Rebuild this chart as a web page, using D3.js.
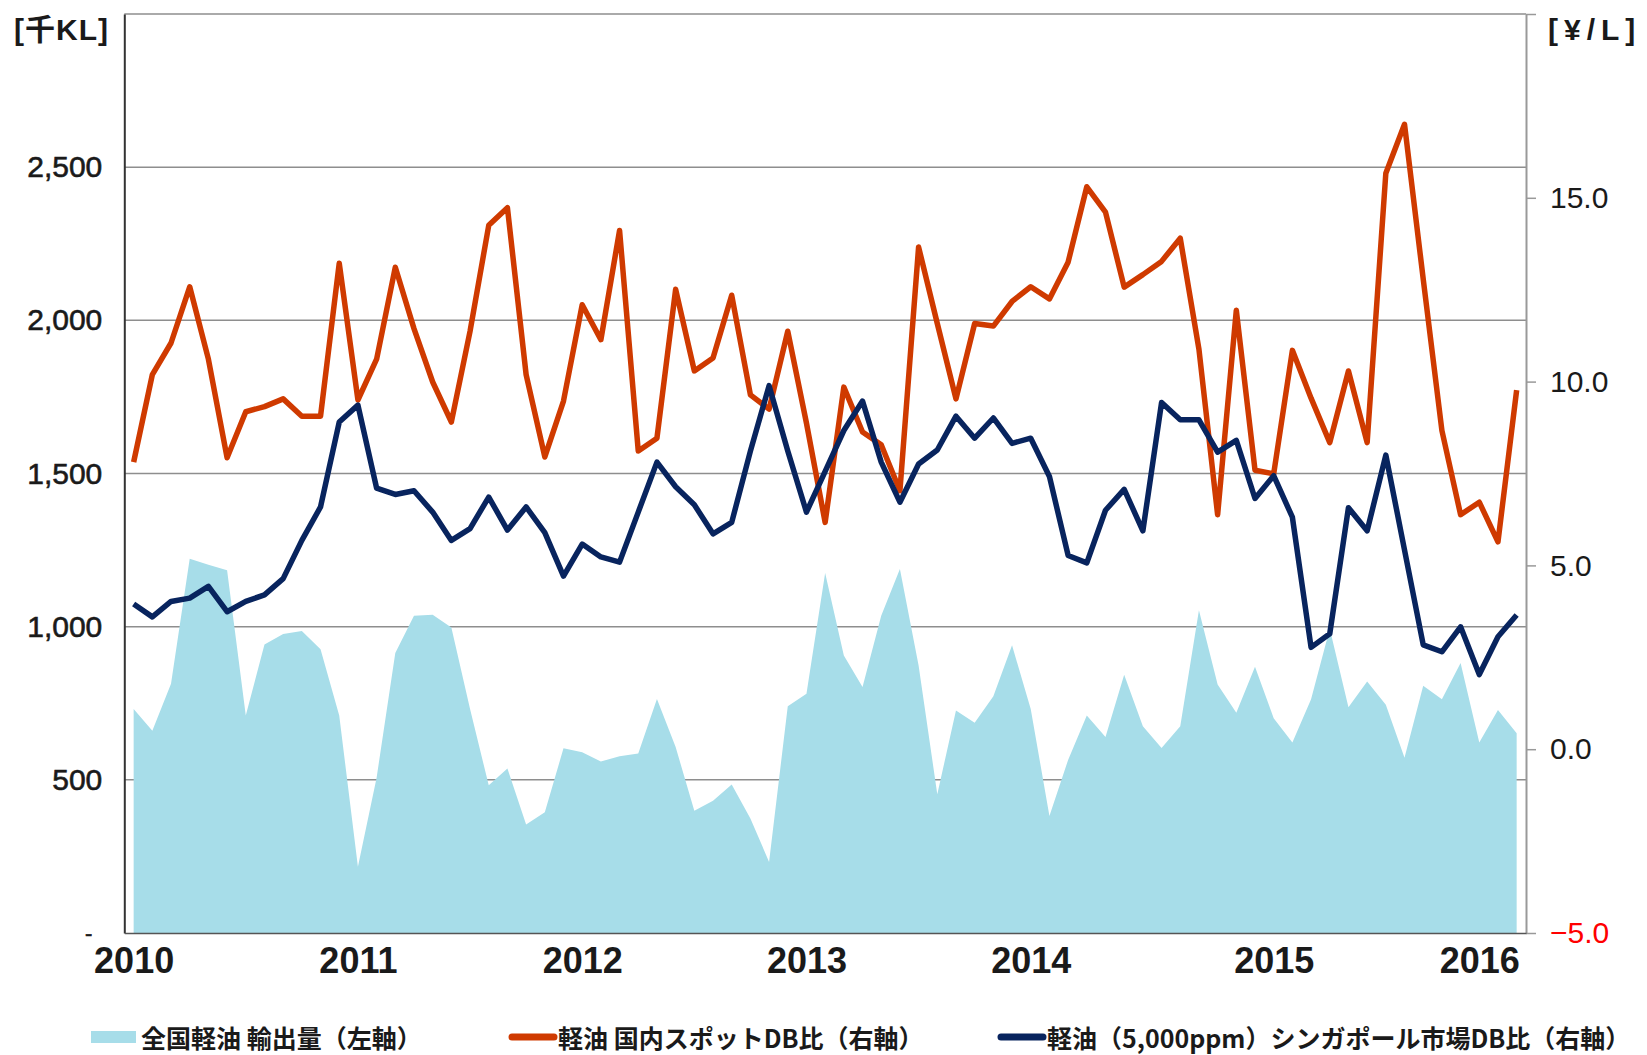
<!DOCTYPE html>
<html>
<head>
<meta charset="utf-8">
<script src="https://cdn.jsdelivr.net/npm/d3@7"></script>
<style>
  body { margin: 0; background: #fff; }
  svg { display: block; }
</style>
</head>
<body>
<div id="chart"></div>
<script>
// monthly data, Jan 2010 - Mar 2016
const exportVol = [
    731, 660, 814, 1222, 1202, 1184, 710, 942, 976, 986, 926, 710,
    216, 507, 914, 1036, 1039, 997, 731, 482, 537, 354, 394, 603,
    590, 560, 577, 586, 764, 607, 399, 432, 485, 374, 232, 740,
    781, 1175, 906, 803, 1036, 1188, 873, 453, 726, 686, 773, 939,
    731, 382, 565, 710, 640, 843, 675, 604, 675, 1054, 811, 719,
    869, 701, 622, 763, 993, 737, 821, 745, 572, 807, 763, 881,
    622, 728, 652
];
const domesticSpread = [
    7.81, 10.19, 11.05, 12.58, 10.61, 7.93, 9.18, 9.32, 9.53, 9.06, 9.06, 13.22,
    9.5, 10.61, 13.11, 11.44, 9.99, 8.9, 11.37, 14.25, 14.73, 10.19, 7.95, 9.47,
    12.09, 11.14, 14.11, 8.11, 8.46, 12.51, 10.29, 10.64, 12.35, 9.64, 9.25, 11.37,
    8.87, 6.17, 9.85, 8.63, 8.28, 7.03, 13.66, 11.58, 9.53, 11.58, 11.51, 12.18,
    12.58, 12.25, 13.25, 15.3, 14.61, 12.57, 12.91, 13.27, 13.9, 10.88, 6.38, 11.94,
    7.59, 7.49, 10.85, 9.55, 8.34, 10.29, 8.34, 15.67, 17.0, 12.79, 8.67, 6.38,
    6.72, 5.64, 9.77
];
const singaporeSpread = [
    3.95, 3.6, 4.02, 4.11, 4.43, 3.74, 4.02, 4.2, 4.64, 5.68, 6.59, 8.9,
    9.36, 7.1, 6.93, 7.03, 6.45, 5.68, 6.0, 6.86, 5.96, 6.59, 5.89, 4.71,
    5.58, 5.23, 5.09, 6.45, 7.81, 7.14, 6.65, 5.86, 6.17, 8.11, 9.89, 8.11,
    6.45, 7.56, 8.67, 9.47, 7.81, 6.72, 7.76, 8.14, 9.06, 8.46, 9.01, 8.32,
    8.46, 7.42, 5.27, 5.07, 6.5, 7.07, 5.94, 9.43, 8.96, 8.96, 8.08, 8.4,
    6.82, 7.44, 6.31, 2.77, 3.14, 6.57, 5.94, 8.0, 5.42, 2.84, 2.65, 3.33,
    2.03, 3.06, 3.65
];

// year labels and the month index they sit at
const yearLabels = ["2010", "2011", "2012", "2013", "2014", "2015", "2016"];
const yearIdx = [0, 12, 24, 36, 48, 61, 72];
const leftTicks = [0, 500, 1000, 1500, 2000, 2500];
const rightTicks = [-5, 0, 5, 10, 15, 20];
const legendLabels = ["全国軽油 輸出量（左軸）", "軽油 国内スポットDB比（右軸）", "軽油（5,000ppm）シンガポール市場DB比（右軸）"];

const width = 1647,
    height = 1055,
    margin = ({ top: 14, right: 121, bottom: 122, left: 124.3 });

const colors = { area: "#a7dde9", red: "#cf3a00", navy: "#08245e" };
const numFont = "'Liberation Sans', Arial, sans-serif";
const jpFont = "'Noto Sans CJK JP', sans-serif";

const svg = d3.select("#chart")
    .append("svg")
    .attr("width", width)
    .attr("height", height);

let x = d3.scaleLinear()
    .domain([-0.5, exportVol.length - 0.5])
    .range([margin.left, width - margin.right]);

let yL = d3.scaleLinear()
    .domain([0, 3000])
    .range([height - margin.bottom, margin.top]);

let yR = d3.scaleLinear()
    .domain([-5, 20])
    .range([height - margin.bottom, margin.top]);

// gridlines (left axis)
svg.append("g")
    .selectAll("line")
    .data([500, 1000, 1500, 2000, 2500, 3000])
    .join("line")
    .attr("x1", margin.left)
    .attr("x2", width - margin.right)
    .attr("y1", d => yL(d))
    .attr("y2", d => yL(d))
    .attr("stroke", "#8e8e8e")
    .attr("stroke-width", 1.5);

// export volume area
let area = d3.area()
    .x((d, i) => x(i))
    .y0(yL(0))
    .y1(d => yL(d));

svg.append("path")
    .datum(exportVol)
    .attr("d", area)
    .attr("fill", colors.area);

let line = d3.line()
    .x((d, i) => x(i))
    .y(d => yR(d));

svg.append("path")
    .datum(domesticSpread)
    .attr("d", line)
    .attr("fill", "none")
    .attr("stroke", colors.red)
    .attr("stroke-width", 5.5)
    .attr("stroke-linejoin", "round");

svg.append("path")
    .datum(singaporeSpread)
    .attr("d", line)
    .attr("fill", "none")
    .attr("stroke", colors.navy)
    .attr("stroke-width", 5.5)
    .attr("stroke-linejoin", "round");

// left axis
let gL = svg.append("g")
    .attr("transform", `translate(${margin.left},0)`)
    .call(d3.axisLeft(yL)
        .tickValues(leftTicks)
        .tickSize(0)
        .tickPadding(22)
        .tickFormat(d => d === 0 ? "-" : d3.format(",")(d)));
gL.select(".domain").attr("stroke", "#333").attr("stroke-width", 2);
gL.selectAll("text")
    .attr("font-family", numFont)
    .attr("font-size", d => d === 0 ? 22 : 30)
    .attr("x", d => d === 0 ? -32 : -22)
    .attr("fill", "#1a1a1a")
    .attr("stroke", "#1a1a1a")
    .attr("stroke-width", 0.6);

// right axis
let gR = svg.append("g")
    .attr("transform", `translate(${width - margin.right},0)`)
    .call(d3.axisRight(yR)
        .tickValues(rightTicks)
        .tickSize(10)
        .tickSizeOuter(0)
        .tickPadding(14)
        .tickFormat(d => d === 20 ? "" : d3.format(".1f")(d)));
gR.select(".domain").attr("stroke", "#999").attr("stroke-width", 2);
gR.selectAll(".tick line").attr("stroke", "#999").attr("stroke-width", 1.5);
gR.selectAll("text")
    .attr("font-family", numFont)
    .attr("font-size", 30)
    .attr("fill", d => d < 0 ? "#ff0000" : "#1a1a1a");

// bottom axis
let gB = svg.append("g")
    .attr("transform", `translate(0,${height - margin.bottom})`)
    .call(d3.axisBottom(x)
        .tickValues(yearIdx)
        .tickSize(0)
        .tickPadding(14)
        .tickFormat((d, i) => yearLabels[i]));
gB.select(".domain").attr("stroke", "#555").attr("stroke-width", 1.5);
gB.selectAll("text")
    .attr("font-family", numFont)
    .attr("font-size", 36)
    .attr("font-weight", "bold")
    .attr("fill", "#1a1a1a");

// unit labels
svg.append("text")
    .attr("x", 14)
    .attr("y", 40)
    .attr("font-family", numFont + ", 'Noto Sans CJK JP'")
    .attr("font-size", 30)
    .attr("font-weight", "bold")
    .attr("letter-spacing", 1)
    .attr("fill", "#1a1a1a")
    .text("[千KL]");

svg.append("text")
    .attr("x", 1548)
    .attr("y", 40)
    .attr("font-family", numFont)
    .attr("font-size", 30)
    .attr("font-weight", "bold")
    .attr("letter-spacing", 6)
    .attr("fill", "#1a1a1a")
    .text("[¥/L]");

// legend
const legendY = 1037;
const legendX = [91, 508, 997];
legendLabels.forEach((label, i) => {
    let lx = legendX[i];
    if (i === 0) {
        svg.append("rect")
            .attr("x", lx)
            .attr("y", legendY - 6)
            .attr("width", 45)
            .attr("height", 12)
            .attr("fill", colors.area);
    } else {
        svg.append("line")
            .attr("x1", lx + 4)
            .attr("x2", lx + 46)
            .attr("y1", legendY)
            .attr("y2", legendY)
            .attr("stroke", i === 1 ? colors.red : colors.navy)
            .attr("stroke-width", 7)
            .attr("stroke-linecap", "round");
    }
    svg.append("text")
        .attr("x", lx + 50)
        .attr("y", legendY)
        .attr("dominant-baseline", "central")
        .attr("font-family", jpFont)
        .attr("font-size", 25)
        .attr("font-weight", "bold")
        .attr("fill", "#1a1a1a")
        .text(label);
});
</script>
</body>
</html>
